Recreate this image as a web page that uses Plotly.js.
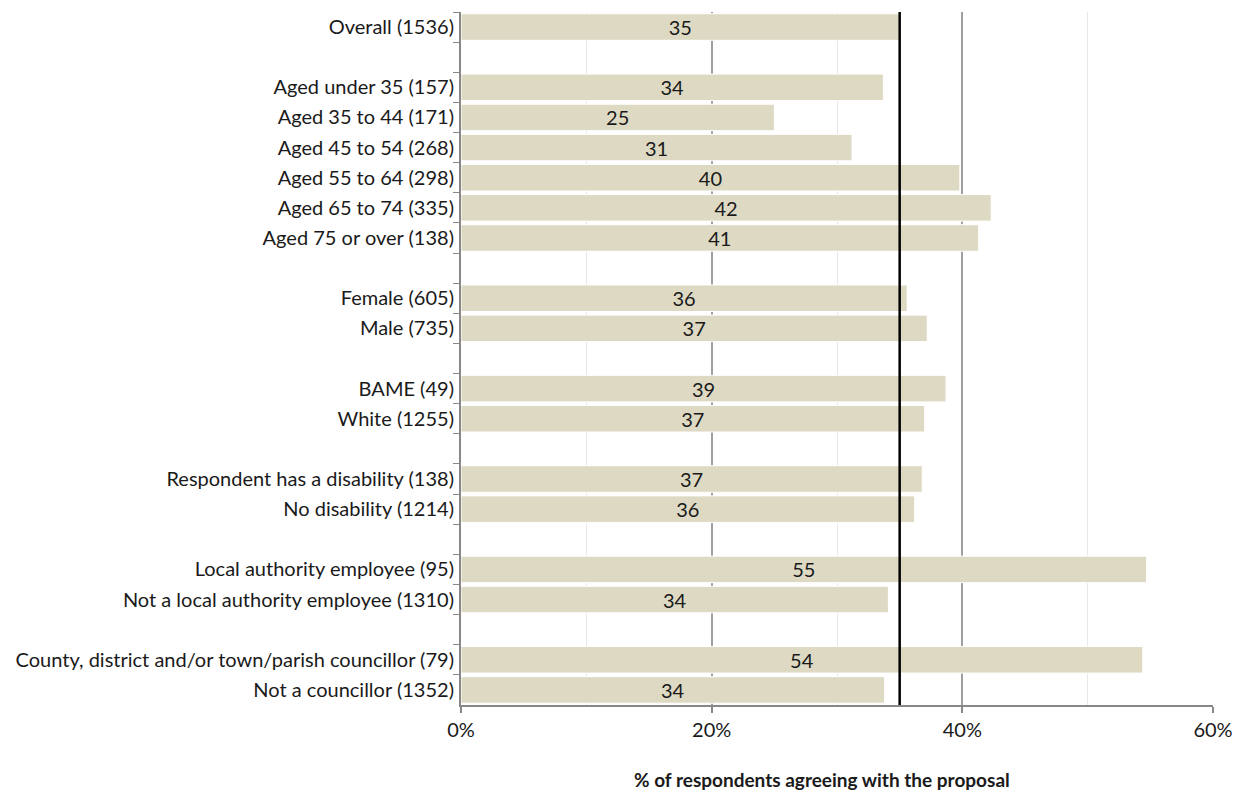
<!DOCTYPE html>
<html>
<head>
<meta charset="utf-8">
<script src="https://cdn.plot.ly/plotly-3.0.1.min.js"></script>
<style>html,body{margin:0;padding:0;background:#fff}#chart{width:1243px;height:792px}</style>
</head>
<body>
<div id="chart"></div>
<script>
const categories = [
  "Overall (1536)", " ",
  "Aged under 35 (157)", "Aged 35 to 44 (171)", "Aged 45 to 54 (268)", "Aged 55 to 64 (298)", "Aged 65 to 74 (335)", "Aged 75 or over (138)", "  ",
  "Female (605)", "Male (735)", "   ",
  "BAME (49)", "White (1255)", "    ",
  "Respondent has a disability (138)", "No disability (1214)", "     ",
  "Local authority employee (95)", "Not a local authority employee (1310)", "      ",
  "County, district and/or town/parish councillor (79)", "Not a councillor (1352)"
];
const values = [
  35.0, null,
  33.7, 25.0, 31.2, 39.8, 42.3, 41.3, null,
  35.6, 37.2, null,
  38.7, 37.0, null,
  36.8, 36.2, null,
  54.7, 34.1, null,
  54.4, 33.8
];
const overallLine = 35;
const xTickVals = [0, 20, 40, 60];
const xTickText = ["0%", "20%", "40%", "60%"];
const labels = values.map(v => v === null ? "" : String(Math.round(v)));

const FONT = "Lato, 'Open Sans', sans-serif";

const trace = {
  type: "bar",
  orientation: "h",
  y: categories,
  x: values,
  text: labels,
  textposition: "inside",
  insidetextanchor: "middle",
  constraintext: "none",
  textangle: 0,
  textfont: {family: FONT, size: 20, color: "#1a1a1a"},
  marker: {color: "#ddd9c3", line: {color: "#ffffff", width: 1}},
  hoverinfo: "none",
  cliponaxis: false
};

const layout = {
  width: 1243, height: 792,
  margin: {l: 461, r: 30, t: 12, b: 87},
  paper_bgcolor: "#fff", plot_bgcolor: "#fff",
  bargap: 0.12,
  showlegend: false,
  font: {family: FONT, size: 20, color: "#1a1a1a"},
  xaxis: {
    range: [0, 60],
    tickvals: xTickVals,
    ticktext: xTickText,
    showgrid: true, gridcolor: "#a0a0a0", gridwidth: 2,
    minor: {tickvals: [10, 30, 50], showgrid: true, gridcolor: "#e8e8e8", gridwidth: 1},
    zeroline: false,
    showline: true, linecolor: "#888", linewidth: 2,
    ticks: "outside", ticklen: 6, tickcolor: "#888", tickwidth: 2,
    tickfont: {size: 20}
  },
  yaxis: {
    type: "category",
    autorange: "reversed",
    showline: true, linecolor: "#888", linewidth: 2,
    ticks: "outside", tickson: "boundaries", ticklen: 6, tickcolor: "#888", tickwidth: 1,
    showgrid: false,
    tickfont: {size: 20},
    ticklabelstandoff: 1
  },
  annotations: [{
    xref: "paper", yref: "paper",
    x: (822 - 461) / (1213 - 461), y: 0,
    yshift: -74, yanchor: "middle", xanchor: "center",
    showarrow: false,
    text: "<b>% of respondents agreeing with the proposal</b>",
    font: {family: FONT, size: 19, color: "#1a1a1a"}
  }],
  shapes: [{
    type: "line", xref: "x", yref: "paper",
    x0: overallLine, x1: overallLine, y0: 0, y1: 1,
    line: {color: "#000", width: 2.5}
  }]
};

Plotly.newPlot("chart", [trace], layout, {displayModeBar: false, staticPlot: true});
</script>
</body>
</html>
